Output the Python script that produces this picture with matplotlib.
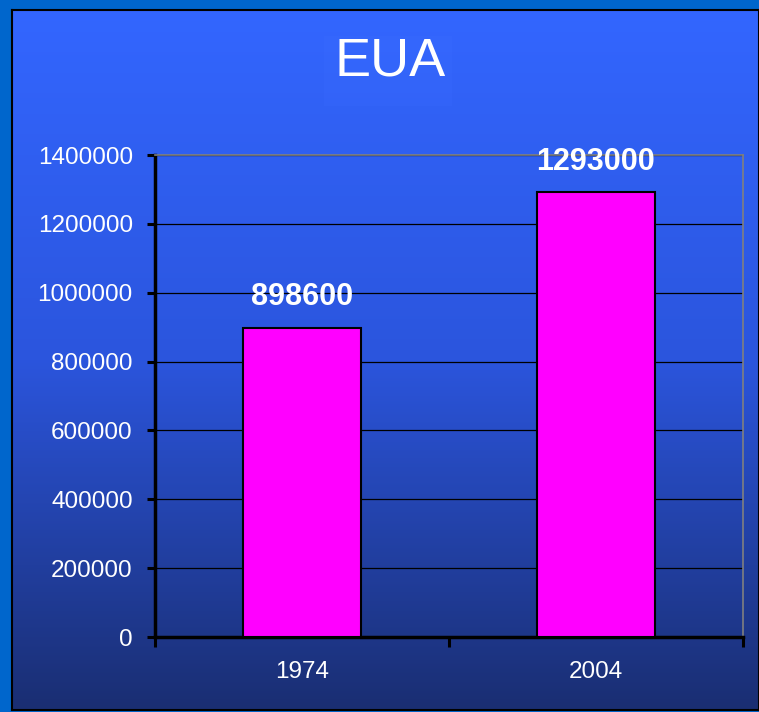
import numpy as np
import matplotlib.pyplot as plt
from matplotlib.colors import LinearSegmentedColormap

# data
years = ["1974", "2004"]
values = [898600, 1293000]
y_ticks = [0, 200000, 400000, 600000, 800000, 1000000, 1200000, 1400000]

W, H = 759, 712
fig = plt.figure(figsize=(W / 100, H / 100), dpi=100, facecolor="#0066CC")

# chart background: vertical blue gradient inside a black frame
bg = fig.add_axes([12 / W, 2 / H, (W - 12) / W, (H - 12) / H])
grad = LinearSegmentedColormap.from_list("bg", ["#3366FF", "#2B55DD", "#1A2E72"])
bg.imshow(np.linspace(0, 1, 256).reshape(-1, 1), aspect="auto", cmap=grad,
          extent=[0, 1, 0, 1], origin="upper")
bg.set_xticks([])
bg.set_yticks([])
for s in bg.spines.values():
    s.set_color("black")
    s.set_linewidth(1.5)

# faint title box
fig.patches.append(plt.Rectangle((324 / W, 1 - 106 / H), 128 / W, 70 / H,
                                 transform=fig.transFigure, facecolor="#3A6CFF",
                                 edgecolor="none", alpha=0.25, zorder=1))
fig.text(390 / W, 1 - 62 / H, "EUA", color="white", fontsize=39,
         family="Liberation Sans", ha="center", va="center")

ax = fig.add_axes([155 / W, (H - 637) / H, 588 / W, 482 / H])
ax.set_facecolor("none")

x = np.arange(len(years))
bars = ax.bar(x, values, width=0.4, color="#FF00FF", edgecolor="black",
              linewidth=1.5, zorder=3)
for b, v in zip(bars, values):
    ax.annotate(str(v), (b.get_x() + b.get_width() / 2, v), xytext=(0, 11),
                textcoords="offset points", ha="center", va="bottom",
                color="white", fontsize=22, fontweight="bold",
                family="Liberation Sans")

ax.set_xlim(-0.5, 1.5)
ax.set_ylim(0, 1400000)
ax.set_yticks(y_ticks)
ax.set_yticklabels([str(t) for t in y_ticks], color="white", fontsize=17.5,
                   family="Liberation Sans")
ax.yaxis.grid(True, color="black", linewidth=0.9)
ax.set_axisbelow(True)

ax.set_xticks([-0.5, 0.5, 1.5])
ax.set_xticklabels([])
ax.set_xticks(x, minor=True)
ax.set_xticklabels(years, minor=True, color="white", fontsize=17.5,
                   family="Liberation Sans")
ax.tick_params(axis="x", which="major", direction="out", length=7, width=2.2,
               color="black")
ax.tick_params(axis="x", which="minor", length=0, pad=17)
ax.tick_params(axis="y", direction="out", length=6, width=2.2, color="black",
               pad=10)

ax.spines["left"].set_color("black")
ax.spines["left"].set_linewidth(2.5)
ax.spines["bottom"].set_color("black")
ax.spines["bottom"].set_linewidth(2.5)
ax.spines["top"].set_color("#808080")
ax.spines["top"].set_linewidth(1.2)
ax.spines["right"].set_color("#808080")
ax.spines["right"].set_linewidth(1.2)

fig.savefig("out.png", dpi=100, facecolor=fig.get_facecolor())
